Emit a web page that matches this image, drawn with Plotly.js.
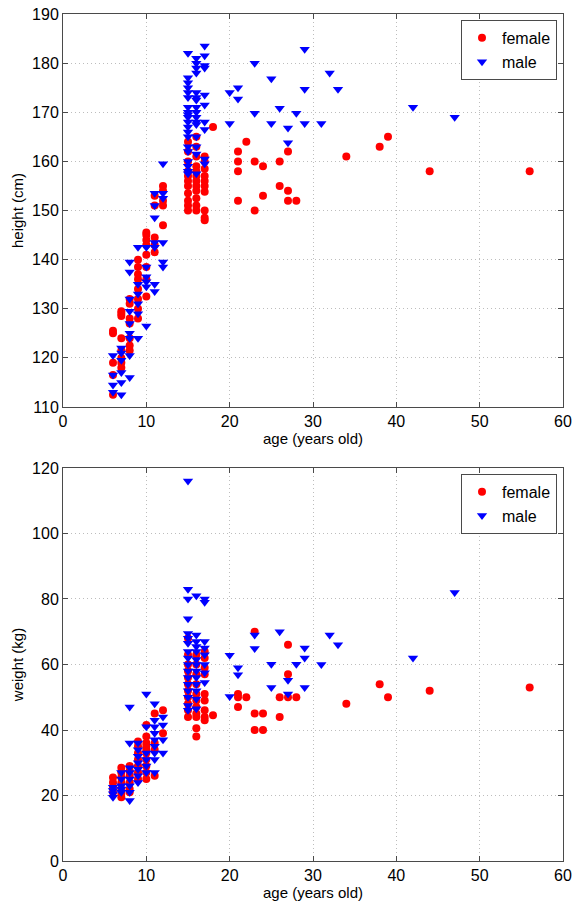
<!DOCTYPE html>
<html>
<head>
<meta charset="utf-8">
<script src="https://cdn.plot.ly/plotly-3.0.1.min.js"></script>
<style>html,body{margin:0;padding:0;background:#fff;}#chart{width:574px;height:906px;}</style>
</head>
<body>
<div id="chart"></div>
<script>
// ---- height plot data ----
var femaleAgeH = [6,6,6,6,6, 7,7,7,7,7,7,7,7, 8,8,8,8,8,8,8, 9,9,9,9,9,9,9,9, 10,10,10,10,10,10,10,10, 11,11,11,11,11, 12,12,12,12,12,
  15,15,15,15,15,15,15,15,15,15,15, 16,16,16,16,16,16,16,16,16,16,16,16, 17,17,17,17,17,17,17,17,17,17, 18,
  21,21,21,21, 22, 23,23, 24,24, 26,26, 27,27,27, 28, 34, 38, 39, 44, 56];
var femaleHeight = [125.5,125,119,116.5,112.5, 129.5,129,128.5,124,121.5,120,119,118, 132,131,128,127,124,122.5,121.5, 140,138.5,137,136,134,132,130,128, 145.5,145,144,143,141,138.5,136,132.5, 153,151,144.5,143,141.5, 155,154,152,151,147,
  164,162,160,158,157,156,155,153.5,152,151,150, 165,163,161,159,158,157,156,155,154,152.5,151,150, 161,160,158.5,157,156,155,153.8,150,148.5,148, 167,
  162,160,158,152, 164, 160,150, 159,153, 160,155, 162,154,152, 152, 161, 163, 165, 158, 158];

var maleAgeH = [6,6,6,6, 7,7,7,7,7,7, 8,8,8,8,8,8,8,8,8, 9,9,9,9,9,9, 10,10,10,10,10,10, 11,11,11,11,11,11,11, 12,12,12,12,12,12,
  15,15,15,15,15,15,15,15,15,15,15,15,15,15,15,15,15,15,15,15, 16,16,16,16,16,16,16,16,16,16,16,16,16,16,16,16, 17,17,17,17,17,17,17,17,17,17,
  20,20, 21,21, 23,23, 25,25, 26, 27,27, 28, 29,29,29, 31, 32, 33, 42, 47];
var maleHeight = [120.5,116.5,114.5,113, 122,121,119.5,117,115,112.5, 139.5,137.5,132,129.5,127,125,124,120.5,116, 142.5,135,133,131,129,124, 142.5,138.5,136.5,135.5,134.5,126.5, 153.5,151,148.5,143.5,142.5,135,133.5, 159.5,153.5,152.5,143.5,139.5,138.5,
  182,177,176,175,174,173,171,170,169.5,169,168,167,166,165,163,162,160,159,158,157.5, 181,180,179,178,174,173,172.5,171,170,169,168,167.5,165,163,161.5,157.5, 183.5,181.5,179.5,179,173.5,171.5,168,166.5,160.5,159.5,
  174,167.7, 175,172.7, 180,169.8, 176.8,167.7, 170.8, 166.8,163.8, 169.8, 182.8,174.7,167.7, 167.7, 178, 174.7, 171, 169];

// ---- weight plot data ----
var femaleAgeW = [6,6,6,6, 7,7,7,7,7,7,7, 8,8,8,8,8,8, 9,9,9,9,9,9,9, 10,10,10,10,10,10,10,10,10,10, 11,11,11,11, 12,12,
  15,15,15,15,15,15,15,15,15,15,15, 16,16,16,16,16,16,16,16,16,16,16, 17,17,17,17,17,17,17,17,17, 18,
  21,21,21, 22, 23,23,23, 24,24, 26,26, 27,27,27, 28, 34, 38, 39, 44, 56];
var femaleWeight = [25.5,24,22.5,21, 28.5,27,25.5,24,22,20.5,19.5, 29,27.5,26,24,22,21, 36.5,35,33,31,29,27,25, 41.5,38,36,35,34,33,31,29,27,25, 45,36,34,26, 46,39,
  68,63,60,58,56,54,52,50,48,46,44, 63,60,57,54,51,49,47,45,44,40.5,38, 64,62,59,57,51,49,46,44,43, 44.5,
  51,50,47, 50, 70,45,40, 45,40, 50,44, 66,57,50, 50, 48, 54, 50, 52, 53];

var maleAgeW = [6,6,6,6, 7,7,7,7,7, 8,8,8,8,8,8,8,8, 9,9,9,9,9,9,9, 10,10,10,10,10,10, 11,11,11,11,11,11,11,11,11, 12,12,12,12,
  15,15,15,15,15,15,15,15,15,15,15,15,15,15,15,15,15, 16,16,16,16,16,16,16,16,16,16,16,16,16, 17,17,17,17,17,17,17,17,
  20,20, 21,21, 23,23, 25,25, 26, 27,27, 28, 29,29,29, 31, 32, 33, 42, 47];
var maleWeight = [22.5,21.5,20.5,19.5, 27,25,23,22,21, 47,36,28.5,27,25,23,21,18.5, 36,34,32,30,28,26,24, 51,41,33,31,29,27, 48,43,41,39,37,35,33,31,27, 44,41.5,37,33,
  116,83,80,74,69.5,68,66.5,64,62,60,58,56,54,52,50,47.5,46, 81,69,67,65.5,64,61.5,60,58,56,54,52,49.5,46.5, 80,79,67,65,63,60,57.5,54.5,
  62.8,50.2, 59,56.9, 69,64.9, 60.1,53, 70, 55.2,51, 60.1, 65,62,53, 60, 69, 66, 62, 82];

// ---- ticks / labels ----
var ageTicks = [0,10,20,30,40,50,60];
var heightTicks = [110,120,130,140,150,160,170,180,190];
var weightTicks = [0,20,40,60,80,100,120];

var FONT = 'Liberation Sans, Arial, Helvetica, sans-serif';
var red = '#ff0000', blue = '#0000ff';

var traces = [
  {x: femaleAgeH, y: femaleHeight, type: 'scatter', mode: 'markers', name: 'female',
   marker: {symbol: 'circle', color: red, size: 8}, xaxis: 'x', yaxis: 'y', legend: 'legend'},
  {x: maleAgeH, y: maleHeight, type: 'scatter', mode: 'markers', name: 'male',
   marker: {symbol: 'triangle-down', color: blue, size: 9}, xaxis: 'x', yaxis: 'y', legend: 'legend'},
  {x: femaleAgeW, y: femaleWeight, type: 'scatter', mode: 'markers', name: 'female',
   marker: {symbol: 'circle', color: red, size: 8}, xaxis: 'x2', yaxis: 'y2', legend: 'legend2'},
  {x: maleAgeW, y: maleWeight, type: 'scatter', mode: 'markers', name: 'male',
   marker: {symbol: 'triangle-down', color: blue, size: 9}, xaxis: 'x2', yaxis: 'y2', legend: 'legend2'}
];

function axisBase() {
  return {
    showline: true, linecolor: '#4a4a4a', linewidth: 1, mirror: 'ticks',
    ticks: 'inside', ticklen: 5, tickcolor: '#4a4a4a',
    showgrid: true, gridcolor: '#bdbdbd', griddash: '1px,3px', gridwidth: 1,
    zeroline: false, tickfont: {family: FONT, size: 16, color: '#000'},
    ticklabelstandoff: 0,
    tickmode: 'array'
  };
}
var titleFont = {family: FONT, size: 15, color: '#000'};

var xa = axisBase(); xa.range = [0, 60]; xa.tickvals = ageTicks; xa.anchor = 'y'; xa.domain = [0, 1];
xa.title = {text: 'age (years old)', font: titleFont, standoff: 0};
var ya = axisBase(); ya.range = [110, 190]; ya.tickvals = heightTicks; ya.anchor = 'x'; ya.domain = [0.536, 1];
ya.title = {text: 'height (cm)', font: titleFont, standoff: 4};
var xa2 = axisBase(); xa2.range = [0, 60]; xa2.tickvals = ageTicks; xa2.anchor = 'y2'; xa2.domain = [0, 1];
xa2.title = {text: 'age (years old)', font: titleFont, standoff: 0};
var ya2 = axisBase(); ya2.range = [0, 120]; ya2.tickvals = weightTicks; ya2.anchor = 'x2'; ya2.domain = [0, 0.464];
ya2.title = {text: 'weight (kg)', font: titleFont, standoff: 4};

var legendBase = function(ytop) {
  return {x: 0.988, y: ytop, xanchor: 'right', yanchor: 'top',
    bgcolor: '#fff', bordercolor: '#4a4a4a', borderwidth: 1,
    font: {family: FONT, size: 16, color: '#000'}, tracegroupgap: 0, itemwidth: 30};
};

var layout = {
  width: 574, height: 906,
  margin: {l: 63, r: 11, t: 14, b: 45},
  paper_bgcolor: '#fff', plot_bgcolor: '#fff',
  showlegend: true,
  xaxis: xa, yaxis: ya, xaxis2: xa2, yaxis2: ya2,
  legend: legendBase(0.993),
  legend2: legendBase(0.457),
  font: {family: FONT}
};

Plotly.newPlot('chart', traces, layout, {staticPlot: true, displayModeBar: false});
</script>
</body>
</html>
